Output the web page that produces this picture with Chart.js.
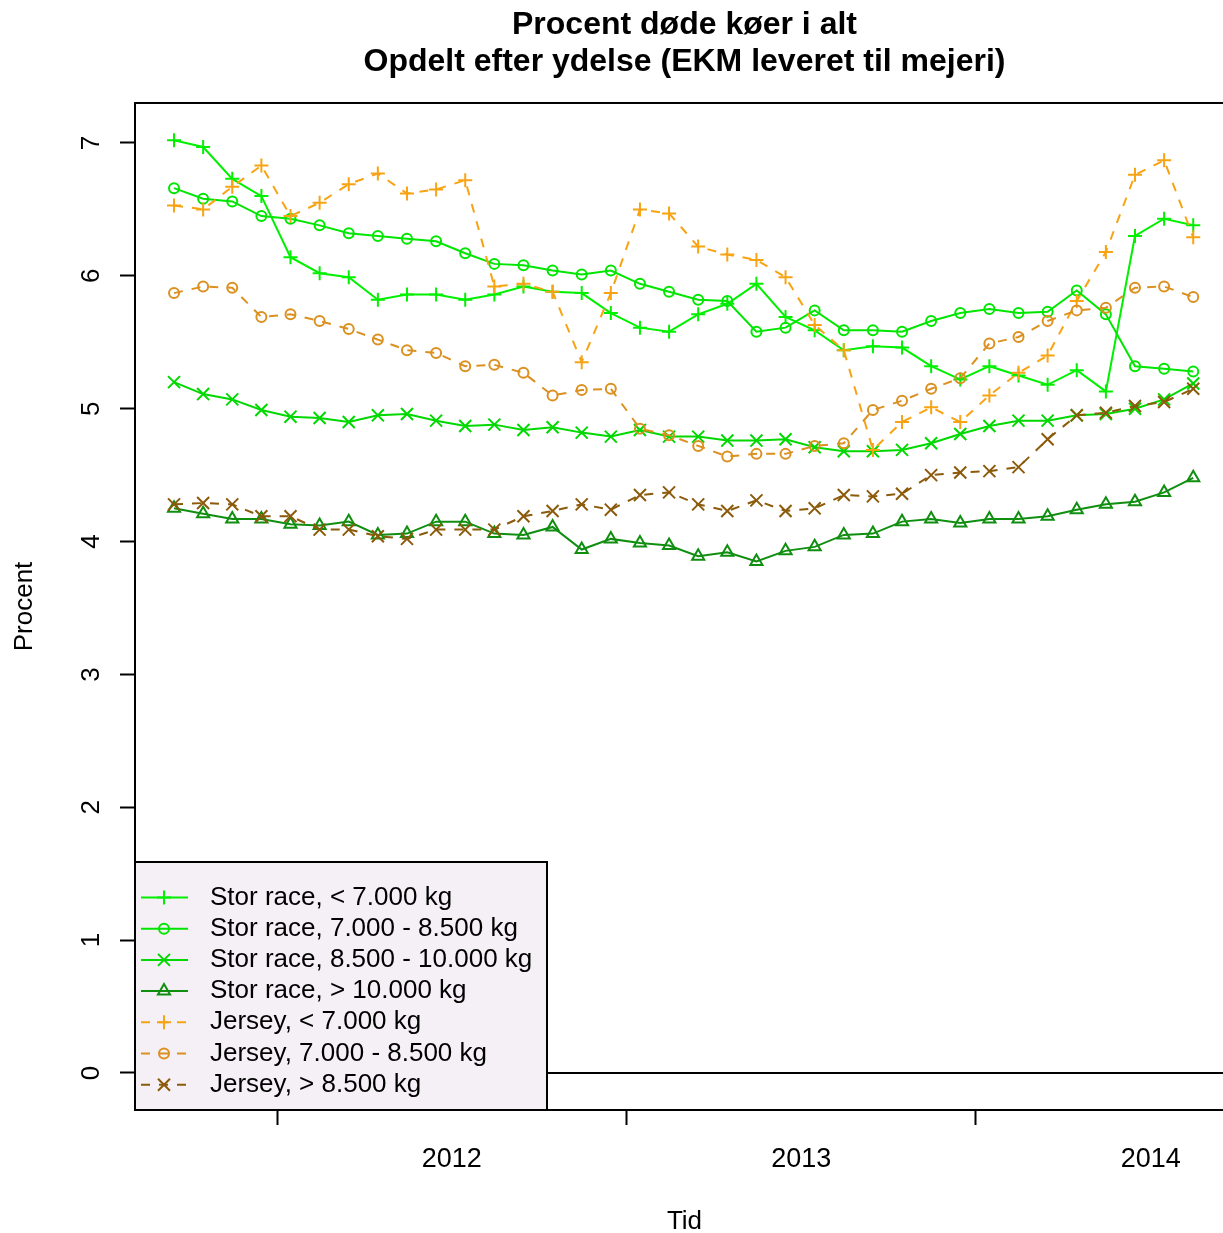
<!DOCTYPE html>
<html>
<head>
<meta charset="utf-8">
<script src="https://cdn.jsdelivr.net/npm/chart.js@4/dist/chart.umd.min.js"></script>
<style>
  html, body { margin: 0; padding: 0; background: #fff; overflow: hidden; }
  /* the plot region runs a little past the right edge of the picture */
  #wrap { width: 1223px; height: 1233px; overflow: hidden; }
</style>
</head>
<body>
<div id="wrap"><canvas id="myChart" width="1234" height="1233"></canvas></div>
<script>
// months (mid-month observations), Sep 2011 - Aug 2014
var months = ['2011-09','2011-10','2011-11','2011-12',
  '2012-01','2012-02','2012-03','2012-04','2012-05','2012-06','2012-07','2012-08','2012-09','2012-10','2012-11','2012-12',
  '2013-01','2013-02','2013-03','2013-04','2013-05','2013-06','2013-07','2013-08','2013-09','2013-10','2013-11','2013-12',
  '2014-01','2014-02','2014-03','2014-04','2014-05','2014-06','2014-07','2014-08'];

var storUnder7 = [7.02, 6.97, 6.73, 6.60, 6.14, 6.02, 5.99, 5.82, 5.86, 5.86, 5.82, 5.86, 5.92, 5.88, 5.87, 5.72, 5.61, 5.58, 5.71, 5.79, 5.94, 5.69, 5.59, 5.44, 5.47, 5.46, 5.32, 5.22, 5.32, 5.25, 5.18, 5.29, 5.13, 6.30, 6.43, 6.38];
var stor7to85 = [6.66, 6.58, 6.56, 6.45, 6.43, 6.38, 6.32, 6.30, 6.28, 6.26, 6.17, 6.09, 6.08, 6.04, 6.01, 6.04, 5.94, 5.88, 5.82, 5.81, 5.58, 5.61, 5.74, 5.59, 5.59, 5.58, 5.66, 5.72, 5.75, 5.72, 5.73, 5.89, 5.71, 5.32, 5.30, 5.28];
var stor85to10 = [5.20, 5.11, 5.07, 4.99, 4.94, 4.93, 4.90, 4.95, 4.96, 4.91, 4.87, 4.88, 4.84, 4.86, 4.82, 4.79, 4.84, 4.79, 4.79, 4.76, 4.76, 4.77, 4.71, 4.68, 4.68, 4.69, 4.74, 4.81, 4.87, 4.91, 4.91, 4.95, 4.96, 5.00, 5.07, 5.19];
var storOver10 = [4.25, 4.21, 4.17, 4.17, 4.13, 4.12, 4.15, 4.05, 4.06, 4.15, 4.15, 4.06, 4.05, 4.11, 3.94, 4.02, 3.99, 3.97, 3.89, 3.92, 3.85, 3.93, 3.96, 4.05, 4.06, 4.15, 4.17, 4.14, 4.17, 4.17, 4.19, 4.24, 4.28, 4.30, 4.37, 4.48];
var jerUnder7 = [6.53, 6.50, 6.67, 6.83, 6.45, 6.55, 6.69, 6.77, 6.62, 6.65, 6.72, 5.92, 5.94, 5.88, 5.35, 5.87, 6.50, 6.47, 6.22, 6.16, 6.12, 5.99, 5.63, 5.44, 4.69, 4.90, 5.01, 4.90, 5.10, 5.27, 5.40, 5.81, 6.18, 6.76, 6.87, 6.29];
var jer7to85 = [5.87, 5.92, 5.91, 5.69, 5.71, 5.66, 5.60, 5.52, 5.44, 5.42, 5.32, 5.33, 5.27, 5.10, 5.14, 5.15, 4.85, 4.80, 4.72, 4.64, 4.66, 4.66, 4.72, 4.74, 4.99, 5.06, 5.15, 5.23, 5.49, 5.54, 5.66, 5.74, 5.76, 5.91, 5.92, 5.84];
var jerOver85 = [4.28, 4.29, 4.28, 4.19, 4.19, 4.09, 4.09, 4.04, 4.02, 4.09, 4.09, 4.09, 4.19, 4.23, 4.28, 4.24, 4.35, 4.37, 4.28, 4.23, 4.31, 4.23, 4.25, 4.35, 4.34, 4.36, 4.50, 4.52, 4.53, 4.56, 4.77, 4.95, 4.97, 5.02, 5.05, 5.15];

var seriesNames = ['Stor race, < 7.000 kg', 'Stor race, 7.000 - 8.500 kg', 'Stor race, 8.500 - 10.000 kg', 'Stor race, > 10.000 kg',
  'Jersey, < 7.000 kg', 'Jersey, 7.000 - 8.500 kg', 'Jersey, > 8.500 kg'];
var years = ['2012', '2013', '2014'];
var yTickValues = [0, 1, 2, 3, 4, 5, 6, 7];

var FONT = "'Liberation Sans', Arial, sans-serif";

// x = months since first observation; year boundaries fall half a month before January's point
function monthPos(m) { return months.indexOf(m) - 0.46; }
var xTicks = [];
years.forEach(function(y) { xTicks.push(monthPos(y + '-01'), monthPos(y + '-07')); });

function pts(arr) { return arr.map(function(v, i) { return {x: i, y: v}; }); }

function series(i, values, color, style, radius, dashed) {
  return {
    label: seriesNames[i],
    data: pts(values),
    borderColor: color,
    borderWidth: 2,
    borderDash: dashed ? [9, 9] : [],
    pointStyle: style,
    pointRadius: radius,
    pointHoverRadius: radius,
    pointBorderColor: color,
    pointBackgroundColor: 'rgba(0,0,0,0)',
    pointBorderWidth: 2,
    tension: 0,
    fill: false,
    order: 7 - i
  };
}

var datasets = [
  series(0, storUnder7, '#00F000', 'cross', 7, false),
  series(1, stor7to85, '#00E600', 'circle', 5, false),
  series(2, stor85to10, '#00D800', 'crossRot', 8.5, false),
  series(3, storOver10, '#108E10', 'triangle', 7, false),
  series(4, jerUnder7, '#F7A313', 'cross', 7, true),
  series(5, jer7to85, '#DB9020', 'circle', 5, true),
  series(6, jerOver85, '#8B5A0A', 'crossRot', 8.5, true)
];

// plot frame + abline at 0
var framePlugin = {
  id: 'frame',
  beforeDatasetsDraw: function(chart) {
    var a = chart.chartArea, c = chart.ctx, y0 = chart.scales.y.getPixelForValue(0);
    c.save();
    c.strokeStyle = '#000';
    c.lineWidth = 2;
    c.beginPath();
    c.moveTo(a.left, y0); c.lineTo(a.right, y0);
    c.stroke();
    c.strokeRect(a.left, a.top, a.right - a.left, a.bottom - a.top);
    c.restore();
  }
};

// legend in the bottom-left corner of the plot
var boxLegend = {
  id: 'boxLegend',
  afterDatasetsDraw: function(chart) {
    var a = chart.chartArea, c = chart.ctx;
    var w = 412, h = 248, x0 = a.left, y0 = a.bottom - h;
    c.save();
    c.fillStyle = '#F5F0F5';
    c.fillRect(x0, y0, w, h);
    c.strokeStyle = '#000';
    c.lineWidth = 2;
    c.strokeRect(x0, y0, w, h);
    c.font = '26px ' + FONT;
    c.textBaseline = 'middle';
    chart.data.datasets.forEach(function(ds, i) {
      var yy = y0 + 35.5 + i * 31.2;
      c.strokeStyle = ds.borderColor;
      c.lineWidth = 2;
      c.setLineDash(ds.borderDash);
      c.beginPath();
      c.moveTo(x0 + 6, yy); c.lineTo(x0 + 53, yy);
      c.stroke();
      c.setLineDash([]);
      c.fillStyle = 'rgba(0,0,0,0)';
      Chart.helpers.drawPoint(c, {pointStyle: ds.pointStyle, radius: ds.pointRadius, rotation: 0, borderWidth: 2}, x0 + 29, yy);
      c.fillStyle = '#000';
      c.fillText(ds.label, x0 + 75, yy);
    });
    c.restore();
  }
};

var ctx = document.getElementById('myChart').getContext('2d');
var myChart = new Chart(ctx, {
  type: 'line',
  data: { datasets: datasets },
  plugins: [framePlugin, boxLegend],
  options: {
    responsive: false,
    animation: false,
    events: [],
    layout: { autoPadding: false, padding: 0 },
    plugins: {
      legend: { display: false },
      tooltip: { enabled: false },
      title: {
        display: true,
        fullSize: false,
        text: ['Procent døde køer i alt', 'Opdelt efter ydelse (EKM leveret til mejeri)'],
        color: '#000',
        font: { family: FONT, size: 32, weight: 'bold', lineHeight: 1.156 },
        padding: { top: 6.5, bottom: 22.5 }
      }
    },
    scales: {
      x: {
        type: 'linear',
        min: -1.34,
        max: 36.4,
        afterBuildTicks: function(s) { s.ticks = xTicks.map(function(v) { return {value: v}; }); },
        afterFit: function(s) { s.height = 123; },
        border: { display: false },
        grid: {
          drawOnChartArea: false,
          tickLength: 15,
          tickWidth: 2,
          tickColor: function(c) { return c.index % 2 ? 'rgba(0,0,0,0)' : '#000'; }
        },
        ticks: {
          autoSkip: false,
          minRotation: 0,
          maxRotation: 0,
          padding: 18,
          color: '#000',
          font: { family: FONT, size: 27 },
          callback: function(v, i) { return i % 2 ? years[(i - 1) / 2] : ''; }
        },
        title: {
          display: true,
          text: 'Tid',
          color: '#000',
          font: { family: FONT, size: 26, lineHeight: 1 },
          padding: { top: 0, bottom: -2 }
        }
      },
      y: {
        min: -0.2785,
        max: 7.301,
        afterBuildTicks: function(s) { s.ticks = yTickValues.map(function(v) { return {value: v}; }); },
        afterFit: function(s) { s.width = 135; },
        border: { display: false },
        grid: { drawOnChartArea: false, tickLength: 15, tickWidth: 2, tickColor: '#000' },
        ticks: {
          minRotation: 90,
          maxRotation: 90,
          crossAlign: 'center',
          padding: 21,
          color: '#000',
          font: { family: FONT, size: 26 }
        },
        title: {
          display: true,
          text: 'Procent',
          color: '#000',
          font: { family: FONT, size: 26, lineHeight: 1.2 },
          padding: { top: 9, bottom: 0 }
        }
      }
    }
  }
});
</script>
</body>
</html>
